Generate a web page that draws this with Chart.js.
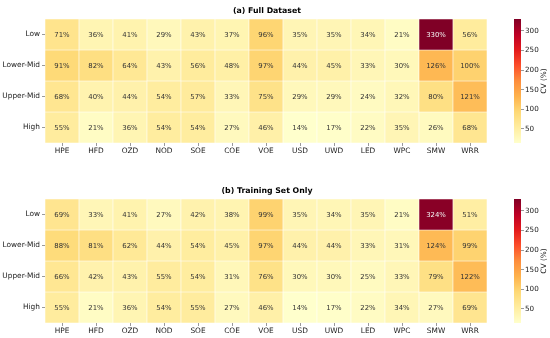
<!DOCTYPE html>
<html>
<head>
<meta charset="utf-8">
<script src="https://cdn.jsdelivr.net/npm/chart.js@4.4.1/dist/chart.umd.min.js"></script>
<style>
  body { margin: 0; background: #fff; width: 550px; height: 338px; overflow: hidden; }
  .box { position: absolute; }
</style>
</head>
<body>
<div class="box" style="left:0;top:0;width:505px;height:160px"><canvas id="heatA"></canvas></div>
<div class="box" style="left:505px;top:0;width:45px;height:160px"><canvas id="barA"></canvas></div>
<div class="box" style="left:0;top:180px;width:505px;height:160px"><canvas id="heatB"></canvas></div>
<div class="box" style="left:505px;top:180px;width:45px;height:160px"><canvas id="barB"></canvas></div>
<script>
// income groups (rows) and variables (columns)
const groups = ['Low', 'Lower-Mid', 'Upper-Mid', 'High'];
const variables = ['HPE', 'HFD', 'OZD', 'NOD', 'SOE', 'COE', 'VOE', 'USD', 'UWD', 'LED', 'WPC', 'SMW', 'WRR'];

// CV (%) - full dataset
const fullLow      = [71, 36, 41, 29, 43, 37, 96, 35, 35, 34, 21, 330, 56];
const fullLowerMid = [91, 82, 64, 43, 56, 48, 97, 44, 45, 33, 30, 126, 100];
const fullUpperMid = [68, 40, 44, 54, 57, 33, 75, 29, 29, 24, 32, 80, 121];
const fullHigh     = [55, 21, 36, 54, 54, 27, 46, 14, 17, 22, 35, 26, 68];

// CV (%) - training set only
const trainLow      = [69, 33, 41, 27, 42, 38, 99, 35, 34, 35, 21, 324, 51];
const trainLowerMid = [88, 81, 62, 44, 54, 45, 97, 44, 44, 33, 31, 124, 99];
const trainUpperMid = [66, 42, 43, 55, 54, 31, 76, 30, 30, 25, 33, 79, 122];
const trainHigh     = [55, 21, 36, 54, 55, 27, 46, 14, 17, 22, 34, 27, 69];

const cbTicks = [50, 100, 150, 200, 250, 300];

const FONT = 'DejaVu Sans';
const allVals = [].concat(fullLow, fullLowerMid, fullUpperMid, fullHigh,
  trainLow, trainLowerMid, trainUpperMid, trainHigh);
const vmin = Math.min(...allVals);
const vmax = Math.max(...allVals);

// YlOrRd
const stops = ['#ffffcc', '#ffeda0', '#fed976', '#feb24c', '#fd8d3c', '#fc4e2a', '#e31a1c', '#bd0026', '#800026'];
function hex(h) { return [1, 3, 5].map(i => parseInt(h.substr(i, 2), 16)); }
function cmap(v) {
  let t = (v - vmin) / (vmax - vmin);
  t = Math.max(0, Math.min(1, t)) * (stops.length - 1);
  const i = Math.min(Math.floor(t), stops.length - 2);
  const f = t - i;
  const a = hex(stops[i]), b = hex(stops[i + 1]);
  return a.map((x, k) => Math.round(x + (b[k] - x) * f));
}
function cstr(c) { return 'rgb(' + c.join(',') + ')'; }

const cellText = {
  id: 'cellText',
  afterDatasetsDraw(chart) {
    const ctx = chart.ctx;
    ctx.save();
    ctx.font = '6.9px "' + FONT + '"';
    ctx.textAlign = 'center';
    ctx.textBaseline = 'middle';
    chart.data.datasets.forEach((ds, di) => {
      chart.getDatasetMeta(di).data.forEach((el, i) => {
        const v = ds.values[i];
        const c = cmap(v);
        const lum = 0.299 * c[0] + 0.587 * c[1] + 0.114 * c[2];
        ctx.fillStyle = lum < 110 ? '#f2f2f2' : '#333333';
        ctx.fillText(v + '%', el.x, (el.y + el.base) / 2 + 0.5);
      });
    });
    ctx.restore();
  }
};

const panelTitle = {
  id: 'panelTitle',
  afterDraw(chart) {
    const ctx = chart.ctx, a = chart.chartArea;
    ctx.save();
    ctx.font = 'bold 7.8px "' + FONT + '"';
    ctx.fillStyle = '#000';
    ctx.textAlign = 'center';
    ctx.textBaseline = 'middle';
    ctx.fillText(chart.options.plugins.panelTitle.text, (a.left + a.right) / 2 + 1, a.top - 8.5);
    ctx.restore();
  }
};

function heatmap(id, title, rows) {
  new Chart(document.getElementById(id), {
    type: 'bar',
    data: {
      labels: variables,
      datasets: rows.map((vals, r) => ({
        label: groups[r],
        values: vals,
        data: vals.map(() => [r, r + 1]),
        backgroundColor: vals.map(v => cstr(cmap(v))),
        borderColor: '#ffffff',
        borderWidth: 0.6,
        borderSkipped: false,
        grouped: false,
        categoryPercentage: 1,
        barPercentage: 1
      }))
    },
    options: {
      responsive: true,
      maintainAspectRatio: false,
      animation: false,
      layout: { padding: { left: 0, right: 18, top: 19, bottom: 0 } },
      plugins: { legend: { display: false }, tooltip: { enabled: false }, panelTitle: { text: title } },
      scales: {
        x: {
          type: 'category',
          offset: true,
          grid: { display: true, drawOnChartArea: false, offset: false, tickLength: 3, color: '#555', tickWidth: 0.6 },
          border: { display: false },
          ticks: { color: '#1a1a1a', font: { family: FONT, size: 7.4 }, padding: 1, maxRotation: 0, autoSkip: false },
          afterFit(s) { s.height = 17; }
        },
        y: {
          type: 'linear',
          min: 0,
          max: 4,
          reverse: true,
          grid: { display: true, drawOnChartArea: false, tickLength: 3, color: '#555', tickWidth: 0.6 },
          border: { display: false },
          afterBuildTicks(s) { s.ticks = groups.map((g, i) => ({ value: i + 0.5 })); },
          ticks: {
            color: '#1a1a1a',
            font: { family: FONT, size: 7.4 },
            padding: 2,
            callback: (v) => groups[Math.floor(v)]
          },
          afterFit(s) { s.width = 45; }
        }
      }
    },
    plugins: [cellText, panelTitle]
  });
}

const cbLabel = {
  id: 'cbLabel',
  afterDraw(chart) {
    const ctx = chart.ctx, a = chart.chartArea;
    ctx.save();
    ctx.translate(39.5, (a.top + a.bottom) / 2);
    ctx.rotate(-Math.PI / 2);
    ctx.font = '7.4px "' + FONT + '"';
    ctx.fillStyle = '#1a1a1a';
    ctx.textAlign = 'center';
    ctx.textBaseline = 'middle';
    ctx.fillText('CV (%)', 0, 0);
    ctx.restore();
  }
};

function colorbar(id) {
  new Chart(document.getElementById(id), {
    type: 'bar',
    data: {
      labels: [''],
      datasets: [{
        data: [[vmin, vmax]],
        backgroundColor(c) {
          const a = c.chart.chartArea;
          if (!a) return stops[0];
          const g = c.chart.ctx.createLinearGradient(0, a.bottom, 0, a.top);
          stops.forEach((s, i) => g.addColorStop(i / (stops.length - 1), s));
          return g;
        },
        borderWidth: 0,
        categoryPercentage: 1,
        barPercentage: 1
      }]
    },
    options: {
      responsive: true,
      maintainAspectRatio: false,
      animation: false,
      layout: { padding: { left: 9, right: 0, top: 19, bottom: 17 } },
      plugins: { legend: { display: false }, tooltip: { enabled: false } },
      scales: {
        x: { display: false },
        y: {
          position: 'right',
          min: vmin,
          max: vmax,
          grid: { display: true, drawOnChartArea: false, tickLength: 3, color: '#555', tickWidth: 0.6 },
          border: { display: false },
          afterBuildTicks(s) { s.ticks = cbTicks.map(v => ({ value: v })); },
          ticks: { color: '#1a1a1a', font: { family: FONT, size: 7.2 }, padding: 1 },
          afterFit(s) { s.width = 29; }
        }
      }
    },
    plugins: [cbLabel]
  });
}

heatmap('heatA', '(a) Full Dataset', [fullLow, fullLowerMid, fullUpperMid, fullHigh]);
colorbar('barA');
heatmap('heatB', '(b) Training Set Only', [trainLow, trainLowerMid, trainUpperMid, trainHigh]);
colorbar('barB');
</script>
</body>
</html>
